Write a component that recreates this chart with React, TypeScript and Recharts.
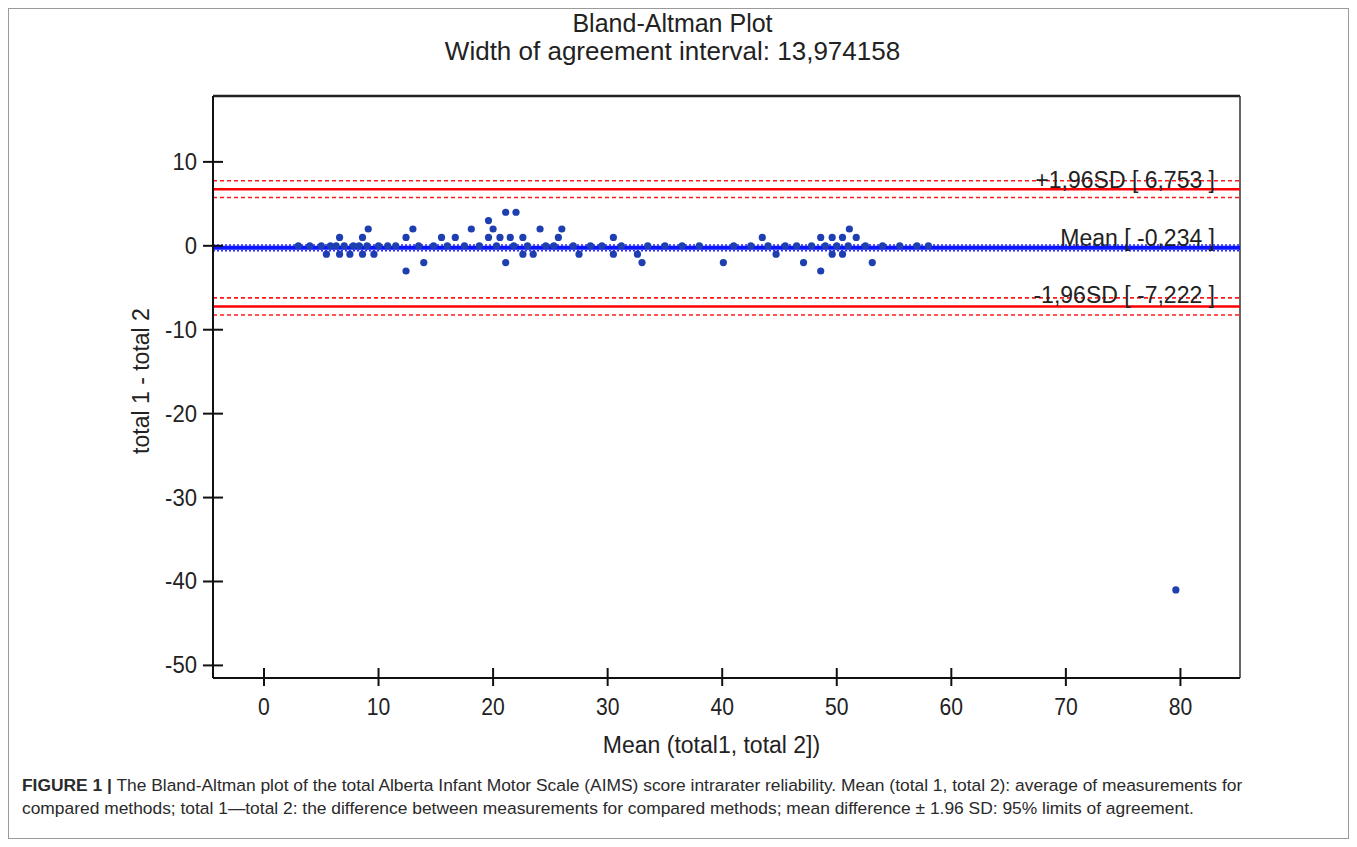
import React from "react";
import {
  ScatterChart,
  Scatter,
  XAxis,
  YAxis,
  ReferenceLine,
} from "recharts";

// ---- data ----
const meanValues: number[] = [
  // difference 0
  3.0, 4.0, 5.0, 5.8, 6.3, 7.0, 7.8, 8.3, 9.0, 10.0, 10.8, 11.5, 13.5, 14.8, 16.0, 17.5, 18.8, 20.3,
  21.8, 23.0, 24.6, 25.3, 27.0, 28.5, 29.5, 31.2, 33.5, 35.0, 36.5, 38.0, 41.0, 42.5, 44.0, 45.5,
  46.5, 47.8, 49.0, 50.0, 51.0, 52.5, 54.0, 55.5, 57.0, 58.0,
  // difference 1
  6.6, 8.6, 12.4, 15.5, 16.7, 19.6, 20.6, 21.5, 22.6, 25.7, 30.5, 43.5, 48.6, 49.6, 50.5, 51.7,
  // difference 2
  9.1, 13.0, 18.1, 20.0, 24.1, 26.0, 51.1,
  // difference 3, 4
  19.6, 21.1, 22.0,
  // difference -1
  5.45, 6.6, 7.5, 8.6, 9.6, 22.6, 23.5, 27.5, 30.5, 32.6, 44.7, 49.6, 50.5,
  // difference -2
  13.95, 21.1, 33.0, 40.1, 47.1, 53.1,
  // difference -3
  12.4, 48.6,
  // outlier
  79.6,
];

const diffValues: number[] = [
  0, 0, 0, 0, 0, 0, 0, 0, 0, 0, 0, 0, 0, 0, 0, 0, 0, 0,
  0, 0, 0, 0, 0, 0, 0, 0, 0, 0, 0, 0, 0, 0, 0, 0,
  0, 0, 0, 0, 0, 0, 0, 0, 0, 0,
  1, 1, 1, 1, 1, 1, 1, 1, 1, 1, 1, 1, 1, 1, 1, 1,
  2, 2, 2, 2, 2, 2, 2,
  3, 4, 4,
  -1, -1, -1, -1, -1, -1, -1, -1, -1, -1, -1, -1, -1,
  -2, -2, -2, -2, -2, -2,
  -3, -3,
  -41,
];

const meanDiff = -0.234;
const upperLimit = 6.753;
const lowerLimit = -7.222;
const upperCI = [5.75, 7.75];
const lowerCI = [-8.25, -6.2];
const meanCI = [-0.58, 0.11];

const xTicks = [0, 10, 20, 30, 40, 50, 60, 70, 80];
const yTicks = [-50, -40, -30, -20, -10, 0, 10];
const xDomain: [number, number] = [-4.45, 85.2];
const yDomain: [number, number] = [-51.5, 17.85];

const titleText = "Bland-Altman Plot";
const subtitleText = "Width of agreement interval: 13,974158";
const xLabelText = "Mean (total1, total 2])";
const yLabelText = "total 1 - total 2";
const upperLabel = "+1,96SD [ 6,753 ]";
const meanLabel = "Mean [ -0,234 ]";
const lowerLabel = "-1,96SD [ -7,222 ]";
const captionBold = "FIGURE 1 |";
const captionLine1 =
  " The Bland-Altman plot of the total Alberta Infant Motor Scale (AIMS) score intrarater reliability. Mean (total 1, total 2): average of measurements for";
const captionLine2 =
  "compared methods; total 1\u2014total 2: the difference between measurements for compared methods; mean difference \u00b1 1.96 SD: 95% limits of agreement.";

const points = meanValues.map((m, i) => ({ x: m, y: diffValues[i] }));

const FONT = "'Liberation Sans', Arial, sans-serif";

const XTick = (props: any) => {
  const { x, y, payload } = props;
  return (
    <g>
      <line x1={x} x2={x} y1={y - 10} y2={y + 8} stroke="#111" strokeWidth={2} />
      <text
        x={0}
        y={0}
        transform={`translate(${x},${y + 37}) scale(0.88,1)`}
        textAnchor="middle"
        fontSize={24}
        fill="#222"
        fontFamily={FONT}
      >
        {payload.value}
      </text>
    </g>
  );
};

const YTick = (props: any) => {
  const { x, y, payload } = props;
  return (
    <g>
      <line x1={x - 10} x2={x + 10} y1={y} y2={y} stroke="#111" strokeWidth={2} />
      <text
        x={0}
        y={0}
        transform={`translate(${x - 16},${y + 8}) scale(0.92,1)`}
        textAnchor="end"
        fontSize={24}
        fill="#222"
        fontFamily={FONT}
      >
        {payload.value}
      </text>
    </g>
  );
};

const LineLabel = (props: any) => {
  const { viewBox, text, dy } = props;
  if (!viewBox) return null;
  return (
    <text
      x={viewBox.x + viewBox.width - 25}
      y={viewBox.y + (dy || 0)}
      textAnchor="end"
      fontSize={23}
      fill="#222"
      fontFamily={FONT}
    >
      {text}
    </text>
  );
};

const XAxisLabel = (props: any) => {
  const { viewBox } = props;
  if (!viewBox) return null;
  return (
    <text
      x={viewBox.x + viewBox.width / 2 - 15}
      y={viewBox.y + 75}
      textAnchor="middle"
      fontSize={23}
      fill="#222"
      fontFamily={FONT}
    >
      {xLabelText}
    </text>
  );
};

const YAxisLabel = (props: any) => {
  const { viewBox } = props;
  if (!viewBox) return null;
  const cx = 132;
  const cy = viewBox.y + viewBox.height / 2 - 6;
  return (
    <text
      x={cx}
      y={cy}
      transform={`rotate(-90 ${cx} ${cy})`}
      textAnchor="middle"
      dominantBaseline="central"
      fontSize={23}
      fill="#222"
      fontFamily={FONT}
    >
      {yLabelText}
    </text>
  );
};

const Dot = (props: any) => {
  const { cx, cy } = props;
  return <circle cx={cx} cy={cy} r={3.6} fill="#1d3fb0" />;
};

export default function App() {
  return (
    <div
      style={{
        position: "relative",
        width: 1341,
        height: 831,
        boxSizing: "border-box",
        border: "1px solid #9a9a9a",
        background: "#fff",
        fontFamily: FONT,
      }}
    >
      <div
        style={{
          position: "absolute",
          left: -6,
          width: 1339,
          top: 0,
          textAlign: "center",
          fontSize: 25,
          lineHeight: "28px",
          color: "#222",
        }}
      >
        {titleText}
      </div>
      <div
        style={{
          position: "absolute",
          left: -6,
          width: 1339,
          top: 28,
          textAlign: "center",
          fontSize: 26,
          lineHeight: "28px",
          color: "#222",
        }}
      >
        {subtitleText}
      </div>
      <div style={{ position: "absolute", left: 0, top: 0 }}>
        <ScatterChart
          width={1339}
          height={760}
          margin={{ top: 87, right: 108, bottom: 51, left: 124 }}
        >
          <XAxis
            type="number"
            dataKey="x"
            domain={xDomain}
            ticks={xTicks}
            allowDataOverflow
            tickSize={0}
            tickMargin={0}
            tickLine={false}
            tick={<XTick />}
            height={40}
            axisLine={{ stroke: "#111", strokeWidth: 2 }}
            interval={0}
            label={<XAxisLabel />}
          />
          <YAxis
            type="number"
            dataKey="y"
            domain={yDomain}
            ticks={yTicks}
            allowDataOverflow
            tickSize={0}
            tickMargin={0}
            tickLine={false}
            tick={<YTick />}
            width={80}
            axisLine={{ stroke: "#111", strokeWidth: 2 }}
            interval={0}
            label={<YAxisLabel />}
          />
          <ReferenceLine y={yDomain[1]} stroke="#222" strokeWidth={2.5} />
          <ReferenceLine x={xDomain[1]} stroke="#333" strokeWidth={1.5} />
          <ReferenceLine y={upperCI[1]} stroke="#ff1a1a" strokeWidth={1.6} strokeDasharray="4 3" />
          <ReferenceLine y={upperCI[0]} stroke="#ff1a1a" strokeWidth={1.6} strokeDasharray="4 3" />
          <ReferenceLine
            y={upperLimit}
            stroke="#ff0000"
            strokeWidth={2.5}
            label={<LineLabel text={upperLabel} dy={-1} />}
          />
          <ReferenceLine y={lowerCI[1]} stroke="#ff1a1a" strokeWidth={1.6} strokeDasharray="4 3" />
          <ReferenceLine y={lowerCI[0]} stroke="#ff1a1a" strokeWidth={1.6} strokeDasharray="4 3" />
          <ReferenceLine
            y={lowerLimit}
            stroke="#ff0000"
            strokeWidth={2.5}
            label={<LineLabel text={lowerLabel} dy={-3} />}
          />
          <ReferenceLine y={meanCI[1]} stroke="#2a2aff" strokeWidth={1.5} strokeDasharray="2 2" />
          <ReferenceLine y={meanCI[0]} stroke="#2a2aff" strokeWidth={1.5} strokeDasharray="2 2" />
          <ReferenceLine
            y={meanDiff}
            stroke="#0a14ff"
            strokeWidth={4}
            label={<LineLabel text={meanLabel} dy={-2} />}
          />
          <Scatter data={points} shape={<Dot />} isAnimationActive={false} />
        </ScatterChart>
      </div>
      <div
        style={{
          position: "absolute",
          left: 13,
          top: 765,
          fontSize: 17.4,
          lineHeight: "23px",
          color: "#2a2a2a",
          whiteSpace: "nowrap",
        }}
      >
        <div>
          <b>{captionBold}</b>
          {captionLine1}
        </div>
        <div>{captionLine2}</div>
      </div>
    </div>
  );
}
